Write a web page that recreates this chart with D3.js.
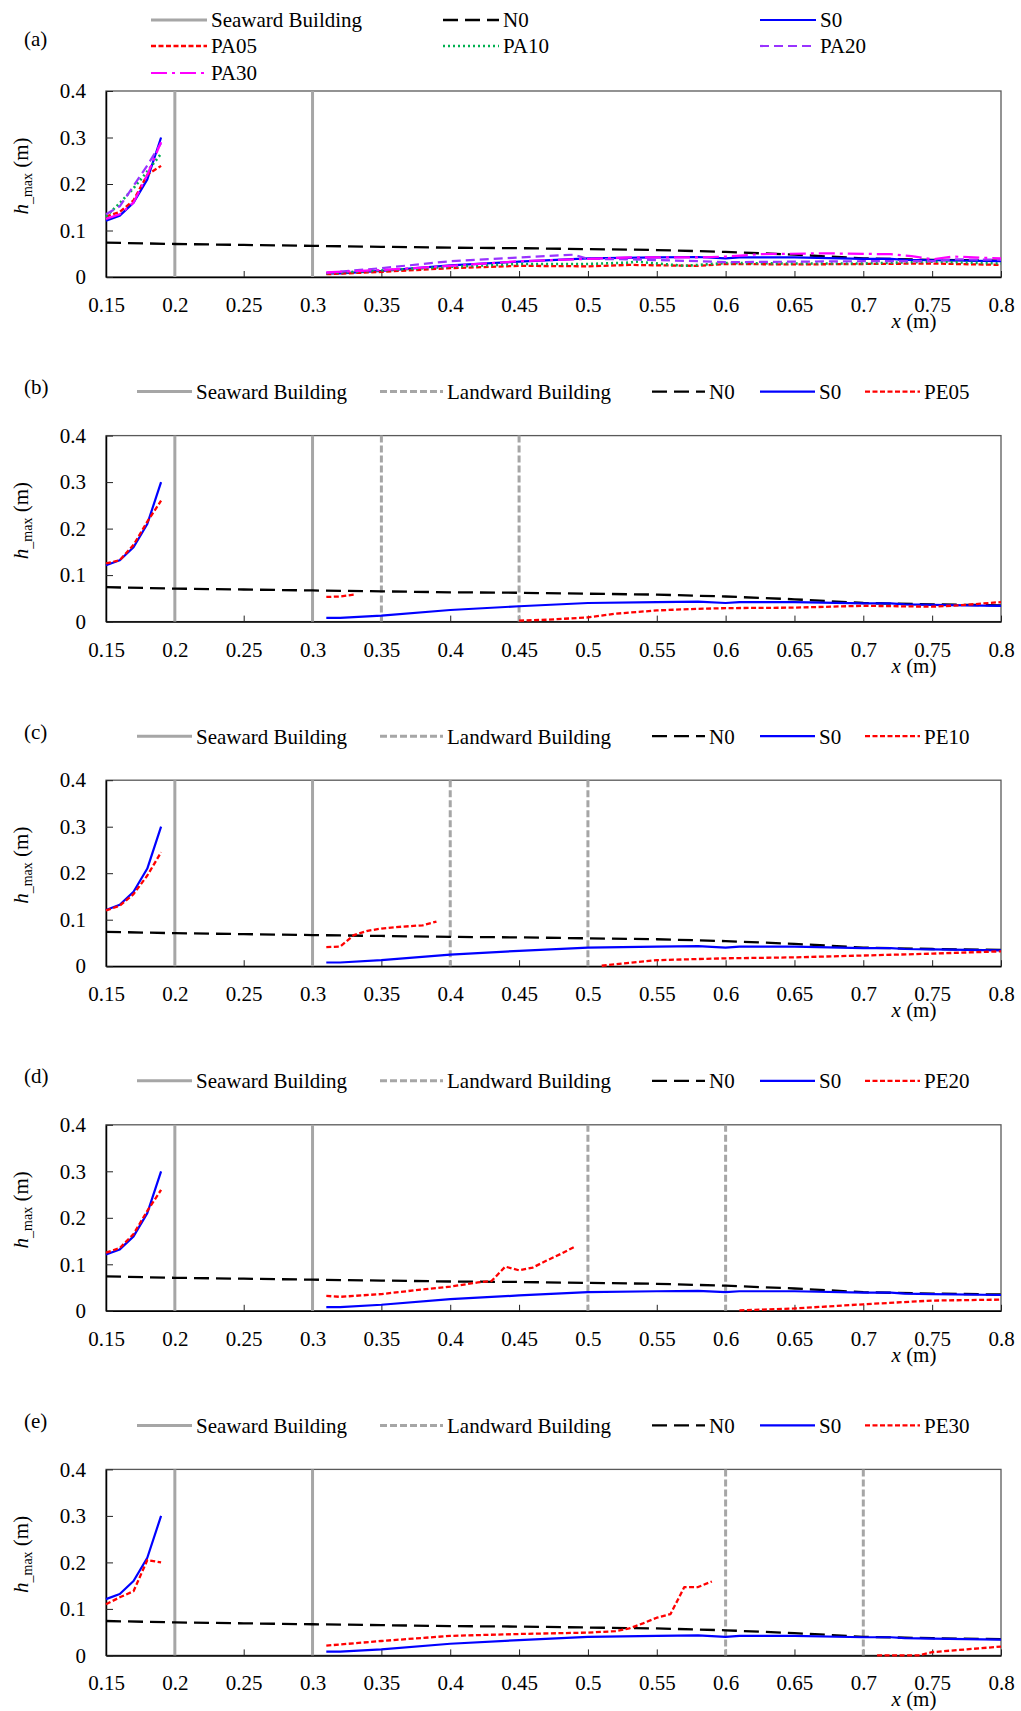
<!DOCTYPE html>
<html>
<head>
<meta charset="utf-8">
<script src="https://cdn.jsdelivr.net/npm/d3@7"></script>
<style>
    body { margin: 0; background: #ffffff; }
    text { font-family: "Liberation Serif", "Times New Roman", serif; fill: #000; }
</style>
</head>
<body>
<svg id="chart" width="1021" height="1711"></svg>
<script>
// axis ticks
let xTicks = [0.15, 0.2, 0.25, 0.3, 0.35, 0.4, 0.45, 0.5, 0.55, 0.6, 0.65, 0.7, 0.75, 0.8];
let yTicks = [0, 0.1, 0.2, 0.3, 0.4];

// building positions (m)
let seawardX = [0.2, 0.3];
let landwardX = [[], [0.35, 0.45], [0.4, 0.5], [0.5, 0.6], [0.6, 0.7]];
let panelLabels = ["(a)", "(b)", "(c)", "(d)", "(e)"];

// no-building case
let n0X = [0.15, 0.2, 0.25, 0.3, 0.35, 0.4, 0.45, 0.5, 0.55, 0.6, 0.65, 0.7, 0.75, 0.8];
let n0Y = [0.074, 0.071, 0.069, 0.067, 0.065, 0.063, 0.062, 0.060, 0.058, 0.054, 0.048, 0.040, 0.037, 0.035];

// single building (null = gap inside the building)
let s0X = [0.15, 0.16, 0.17, 0.18, 0.19, null, 0.31, 0.32, 0.35, 0.4, 0.45, 0.5, 0.55, 0.58, 0.6, 0.61, 0.65, 0.7, 0.72, 0.73, 0.75, 0.8];
let s0Y = [0.121, 0.132, 0.160, 0.210, 0.300, null, 0.008, 0.008, 0.013, 0.025, 0.033, 0.040, 0.042, 0.043, 0.040, 0.042, 0.042, 0.039, 0.039, 0.037, 0.036, 0.034];

// panel (a): porous buildings
let pa05X = [0.15, 0.16, 0.17, 0.18, 0.19, null, 0.31, 0.35, 0.4, 0.45, 0.5, 0.53, 0.58, 0.6, 0.65, 0.7, 0.75, 0.8];
let pa05Y = [0.130, 0.140, 0.165, 0.220, 0.239, null, 0.006, 0.011, 0.019, 0.024, 0.023, 0.026, 0.024, 0.028, 0.027, 0.028, 0.029, 0.026];
let pa10X = [0.15, 0.16, 0.17, 0.18, 0.19, null, 0.31, 0.35, 0.4, 0.45, 0.5, 0.53, 0.535, 0.57, 0.6, 0.65, 0.7, 0.75, 0.8];
let pa10Y = [0.130, 0.159, 0.191, 0.227, 0.265, null, 0.008, 0.014, 0.022, 0.028, 0.028, 0.031, 0.033, 0.024, 0.030, 0.029, 0.029, 0.033, 0.029];
let pa20X = [0.15, 0.16, 0.17, 0.18, 0.19, null, 0.31, 0.35, 0.4, 0.45, 0.49, 0.5, 0.53, 0.58, 0.6, 0.65, 0.7, 0.75, 0.765, 0.8];
let pa20Y = [0.135, 0.152, 0.196, 0.240, 0.288, null, 0.009, 0.019, 0.034, 0.042, 0.048, 0.039, 0.038, 0.034, 0.032, 0.033, 0.034, 0.034, 0.038, 0.037];
let pa30X = [0.15, 0.16, 0.17, 0.18, 0.19, null, 0.31, 0.35, 0.4, 0.45, 0.5, 0.53, 0.58, 0.6, 0.625, 0.67, 0.72, 0.735, 0.75, 0.765, 0.8];
let pa30Y = [0.125, 0.135, 0.160, 0.220, 0.290, null, 0.010, 0.015, 0.024, 0.034, 0.039, 0.042, 0.042, 0.044, 0.049, 0.051, 0.049, 0.045, 0.038, 0.044, 0.040];

// panels (b)-(e): second building behind
let pe05X = [0.15, 0.16, 0.17, 0.18, 0.19, null, 0.31, 0.32, 0.33, null, 0.45, 0.47, 0.5, 0.52, 0.55, 0.575, 0.6, 0.65, 0.7, 0.75, 0.77, 0.8];
let pe05Y = [0.125, 0.132, 0.165, 0.215, 0.260, null, 0.053, 0.054, 0.058, null, 0.002, 0.004, 0.009, 0.017, 0.024, 0.027, 0.029, 0.030, 0.034, 0.032, 0.035, 0.042];
let pe10X = [0.15, 0.16, 0.17, 0.18, 0.19, null, 0.31, 0.32, 0.33, 0.34, 0.35, 0.36, 0.37, 0.38, 0.39, null, 0.51, 0.55, 0.6, 0.65, 0.7, 0.75, 0.8];
let pe10Y = [0.120, 0.130, 0.155, 0.195, 0.245, null, 0.041, 0.042, 0.067, 0.076, 0.081, 0.084, 0.086, 0.088, 0.096, null, 0.001, 0.013, 0.017, 0.019, 0.023, 0.027, 0.032];
let pe20X = [0.15, 0.16, 0.17, 0.18, 0.19, null, 0.31, 0.32, 0.35, 0.38, 0.4, 0.42, 0.43, 0.44, 0.45, 0.46, 0.47, 0.48, 0.49, null, 0.61, 0.65, 0.7, 0.75, 0.8];
let pe20Y = [0.125, 0.135, 0.165, 0.215, 0.260, null, 0.032, 0.030, 0.036, 0.046, 0.052, 0.061, 0.064, 0.095, 0.087, 0.093, 0.108, 0.122, 0.137, null, 0.001, 0.005, 0.014, 0.022, 0.024];
let pe30X = [0.15, 0.16, 0.17, 0.18, 0.19, null, 0.31, 0.35, 0.4, 0.45, 0.5, 0.52, 0.53, 0.54, 0.55, 0.56, 0.57, 0.58, 0.59, null, 0.71, 0.74, 0.75, 0.8];
let pe30Y = [0.110, 0.125, 0.138, 0.205, 0.200, null, 0.021, 0.031, 0.042, 0.046, 0.049, 0.052, 0.058, 0.069, 0.081, 0.089, 0.147, 0.147, 0.159, null, 0.000, 0.000, 0.007, 0.019];

let peNames = ["PE05", "PE10", "PE20", "PE30"];
let peX = [pe05X, pe10X, pe20X, pe30X];
let peY = [pe05Y, pe10Y, pe20Y, pe30Y];

// line styles
let styles = {
    "Seaward Building": {color: "#a6a6a6", width: 3, dash: null},
    "Landward Building": {color: "#a6a6a6", width: 3, dash: "7,3"},
    "N0": {color: "#000000", width: 2.3, dash: "15,7"},
    "S0": {color: "#0000ff", width: 2.2, dash: null},
    "PA05": {color: "#ff0000", width: 2.3, dash: "5,2.5"},
    "PA10": {color: "#00b050", width: 2.6, dash: "2,3"},
    "PA20": {color: "#9933ff", width: 2.2, dash: "9,5"},
    "PA30": {color: "#ff00ff", width: 2.2, dash: "16,5,3,5"},
    "PE": {color: "#ff0000", width: 2.3, dash: "5,2.5"}
};

let svg = d3.select("#chart");
let left = 106, right = 1001, plotH = 186, firstTop = 91, pitch = 344.6;
let fontSize = 21;
let x = d3.scaleLinear().domain([0.15, 0.8]).range([left, right]);
let fmt = (d) => String(+d.toFixed(2));

function zip(xs, ys) {
    return xs.map((v, i) => [v, ys[i]]);
}

function styled(sel, st) {
    sel.attr("fill", "none")
        .attr("stroke", st.color)
        .attr("stroke-width", st.width);
    if (st.dash) {
        sel.attr("stroke-dasharray", st.dash);
    }
    return sel;
}

function legendItem(g, label, st, x1, x2, yRow) {
    styled(g.append("line"), st)
        .attr("x1", x1).attr("x2", x2)
        .attr("y1", yRow).attr("y2", yRow);
    g.append("text")
        .attr("x", x2 + 4)
        .attr("y", yRow)
        .attr("dy", "0.35em")
        .attr("font-size", fontSize)
        .text(label);
}

function drawPanel(i) {
    let top = firstTop + i * pitch;
    let bottom = top + plotH;
    let y = d3.scaleLinear().domain([0, 0.4]).range([bottom, top]);
    let g = svg.append("g").attr("class", "panel");
    let line = d3.line()
        .defined((d) => d[1] !== null)
        .x((d) => x(d[0]))
        .y((d) => y(d[1]));

    // frame
    g.append("rect")
        .attr("x", left).attr("y", top)
        .attr("width", right - left).attr("height", plotH)
        .attr("fill", "none")
        .attr("stroke", "#595959")
        .attr("stroke-width", 1.3);

    // axes
    let xa = g.append("g")
        .attr("transform", "translate(0," + bottom + ")")
        .call(d3.axisBottom(x).tickValues(xTicks).tickSize(-6).tickSizeOuter(0).tickPadding(20).tickFormat(fmt));
    let ya = g.append("g")
        .attr("transform", "translate(" + left + ",0)")
        .call(d3.axisLeft(y).tickValues(yTicks).tickSize(-7).tickSizeOuter(0).tickPadding(20).tickFormat(fmt));
    [xa, ya].forEach((a) => {
        a.attr("font-family", null).attr("font-size", fontSize);
        a.select(".domain").attr("stroke", "#000").attr("stroke-width", 1.5);
        a.selectAll(".tick line").attr("stroke", "#222");
        a.selectAll(".tick text").attr("fill", "#000");
    });

    // buildings
    seawardX.forEach((v) => {
        styled(g.append("line"), styles["Seaward Building"])
            .attr("x1", x(v)).attr("x2", x(v))
            .attr("y1", top).attr("y2", bottom);
    });
    landwardX[i].forEach((v) => {
        styled(g.append("line"), styles["Landward Building"])
            .attr("x1", x(v)).attr("x2", x(v))
            .attr("y1", top).attr("y2", bottom);
    });

    // series
    let series = [["N0", n0X, n0Y], ["S0", s0X, s0Y]];
    if (i === 0) {
        series.push(["PA05", pa05X, pa05Y], ["PA10", pa10X, pa10Y], ["PA20", pa20X, pa20Y], ["PA30", pa30X, pa30Y]);
    } else {
        series.push(["PE", peX[i - 1], peY[i - 1]]);
    }
    series.forEach((s) => {
        styled(g.append("path"), styles[s[0]])
            .attr("stroke-linejoin", "round")
            .attr("d", line(zip(s[1], s[2])));
    });

    // axis titles
    let yt = g.append("text")
        .attr("transform", "translate(28," + (top + plotH / 2 - 8) + ") rotate(-90)")
        .attr("text-anchor", "middle")
        .attr("font-size", fontSize);
    yt.append("tspan").attr("font-style", "italic").text("h");
    yt.append("tspan").attr("font-size", 14).attr("dy", 4).text("_max");
    yt.append("tspan").attr("dy", -4).text(" (m)");

    let xt = g.append("text")
        .attr("x", 914)
        .attr("y", bottom + 51)
        .attr("text-anchor", "middle")
        .attr("font-size", fontSize);
    xt.append("tspan").attr("font-style", "italic").text("x");
    xt.append("tspan").text(" (m)");

    // panel letter
    g.append("text")
        .attr("x", 24)
        .attr("y", top - (i === 0 ? 52 : 49))
        .attr("dy", "0.35em")
        .attr("font-size", fontSize)
        .text(panelLabels[i]);

    // legend
    if (i === 0) {
        let cols = [151, 443, 760];
        let rows = [top - 71, top - 45, top - 18];
        let names = ["Seaward Building", "N0", "S0", "PA05", "PA10", "PA20", "PA30"];
        names.forEach((n, k) => {
            let cx = cols[k % 3];
            legendItem(g, n, styles[n], cx, cx + 56, rows[Math.floor(k / 3)]);
        });
    } else {
        let ly = top - 44;
        legendItem(g, "Seaward Building", styles["Seaward Building"], 137, 192, ly);
        legendItem(g, "Landward Building", styles["Landward Building"], 380, 443, ly);
        legendItem(g, "N0", styles["N0"], 652, 705, ly);
        legendItem(g, "S0", styles["S0"], 760, 815, ly);
        legendItem(g, peNames[i - 1], styles["PE"], 865, 920, ly);
    }
}

for (let i = 0; i < 5; ++i) {
    drawPanel(i);
}
</script>
</body>
</html>
